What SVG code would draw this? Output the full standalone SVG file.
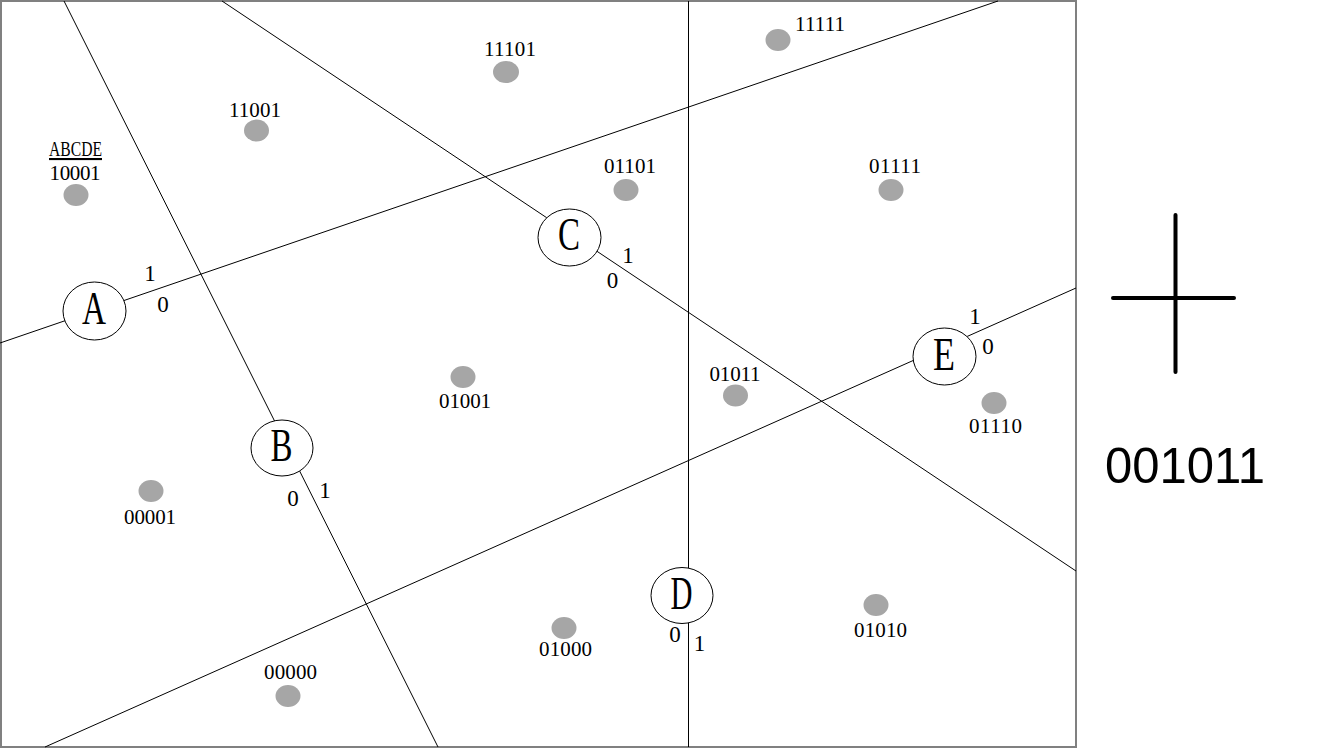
<svg xmlns="http://www.w3.org/2000/svg" width="1318" height="748" viewBox="0 0 1318 748">
<style>
.frame{fill:#fff;stroke:#808080;stroke-width:2}
.ln{stroke:#000;stroke-width:1;fill:none}
.nd{fill:#fff;stroke:#000;stroke-width:1}
.let{font-family:"Liberation Serif","DejaVu Serif",serif;font-size:46px;fill:#000;text-anchor:middle}
.dig{font-family:"Liberation Serif","DejaVu Serif",serif;font-size:23px;fill:#000;text-anchor:middle}
.lab{font-family:"Liberation Serif","DejaVu Serif",serif;font-size:21px;fill:#000;text-anchor:middle}
.pt{fill:#a6a6a6}
.big{font-family:"Liberation Sans","Open Sans",sans-serif;font-size:50px;fill:#000}
</style>
<rect width="1318" height="748" fill="#fff"/>
<rect class="frame" x="1" y="1" width="1075" height="746"/>
<g id="connectors">
<line class="ln" x1="0" y1="343" x2="998" y2="1"/>
<line class="ln" x1="64" y1="1" x2="438" y2="747"/>
<line class="ln" x1="222" y1="1" x2="1076" y2="571"/>
<line class="ln" x1="688.5" y1="1" x2="688.5" y2="747"/>
<line class="ln" x1="45" y1="747" x2="1076" y2="288"/>
</g>
<g id="node-A">
<ellipse class="nd" cx="94.5" cy="311" rx="31.5" ry="29"/>
<text class="let" x="94" y="324" textLength="24" lengthAdjust="spacingAndGlyphs">A</text>
<text class="dig" x="150" y="281">1</text>
<text class="dig" x="163" y="312">0</text>
</g>
<g id="node-B">
<ellipse class="nd" cx="282" cy="448" rx="31" ry="28"/>
<text class="let" x="281.5" y="461" textLength="22" lengthAdjust="spacingAndGlyphs">B</text>
<text class="dig" x="293" y="506">0</text>
<text class="dig" x="325" y="498">1</text>
</g>
<g id="node-C">
<ellipse class="nd" cx="569.5" cy="237.5" rx="31.5" ry="28.5"/>
<text class="let" x="569" y="250" textLength="22" lengthAdjust="spacingAndGlyphs">C</text>
<text class="dig" x="628" y="263">1</text>
<text class="dig" x="612.5" y="288">0</text>
</g>
<g id="node-D">
<ellipse class="nd" cx="682" cy="595.5" rx="31" ry="28"/>
<text class="let" x="681.5" y="609" textLength="22" lengthAdjust="spacingAndGlyphs">D</text>
<text class="dig" x="675" y="642">0</text>
<text class="dig" x="699.5" y="651">1</text>
</g>
<g id="node-E">
<ellipse class="nd" cx="944.5" cy="356.5" rx="31.5" ry="28.5"/>
<text class="let" x="944" y="370" textLength="22" lengthAdjust="spacingAndGlyphs">E</text>
<text class="dig" x="975" y="324">1</text>
<text class="dig" x="988" y="354">0</text>
</g>
<g id="point-10001">
<text class="lab" x="75.5" y="156" textLength="53" lengthAdjust="spacingAndGlyphs" text-decoration="underline">ABCDE</text>
<text class="lab" x="75" y="180" textLength="51">10001</text>
<ellipse class="pt" cx="76" cy="195" rx="12.5" ry="11"/>
</g>
<g id="point-11001">
<text class="lab" x="255" y="116.5" textLength="52">11001</text>
<ellipse class="pt" cx="256.5" cy="130.5" rx="12.5" ry="11"/>
</g>
<g id="point-11101">
<text class="lab" x="510" y="56" textLength="52">11101</text>
<ellipse class="pt" cx="506" cy="72" rx="13" ry="11"/>
</g>
<g id="point-11111">
<text class="lab" x="820" y="30.5" textLength="50">11111</text>
<ellipse class="pt" cx="778" cy="40" rx="12.5" ry="11"/>
</g>
<g id="point-01101">
<text class="lab" x="630" y="173" textLength="52">01101</text>
<ellipse class="pt" cx="626" cy="190" rx="12.5" ry="11"/>
</g>
<g id="point-01111">
<text class="lab" x="895" y="173" textLength="52">01111</text>
<ellipse class="pt" cx="891" cy="190" rx="12.5" ry="11"/>
</g>
<g id="point-01001">
<ellipse class="pt" cx="463" cy="377" rx="12.5" ry="11"/>
<text class="lab" x="465" y="408" textLength="52">01001</text>
</g>
<g id="point-01011">
<text class="lab" x="735" y="381" textLength="51">01011</text>
<ellipse class="pt" cx="735.5" cy="395.5" rx="12.5" ry="11"/>
</g>
<g id="point-01110">
<ellipse class="pt" cx="994" cy="403" rx="12.5" ry="11"/>
<text class="lab" x="995.5" y="433" textLength="53">01110</text>
</g>
<g id="point-00001">
<ellipse class="pt" cx="151" cy="491" rx="12.5" ry="11"/>
<text class="lab" x="150" y="524" textLength="52">00001</text>
</g>
<g id="point-00000">
<text class="lab" x="290.5" y="679" textLength="53">00000</text>
<ellipse class="pt" cx="288" cy="696" rx="12.5" ry="11"/>
</g>
<g id="point-01000">
<ellipse class="pt" cx="564" cy="628" rx="12.5" ry="11"/>
<text class="lab" x="565.5" y="656" textLength="53">01000</text>
</g>
<g id="point-01010">
<ellipse class="pt" cx="876" cy="605" rx="12.5" ry="11"/>
<text class="lab" x="880.5" y="637" textLength="53">01010</text>
</g>
<g id="cursor">
<line x1="1175.5" y1="215" x2="1175.5" y2="372" stroke="#000" stroke-width="4" stroke-linecap="round"/>
<line x1="1113" y1="298" x2="1234" y2="298" stroke="#000" stroke-width="4" stroke-linecap="round"/>
</g>
<text class="big" x="1105" y="483" textLength="160" lengthAdjust="spacingAndGlyphs">001011</text>
</svg>
